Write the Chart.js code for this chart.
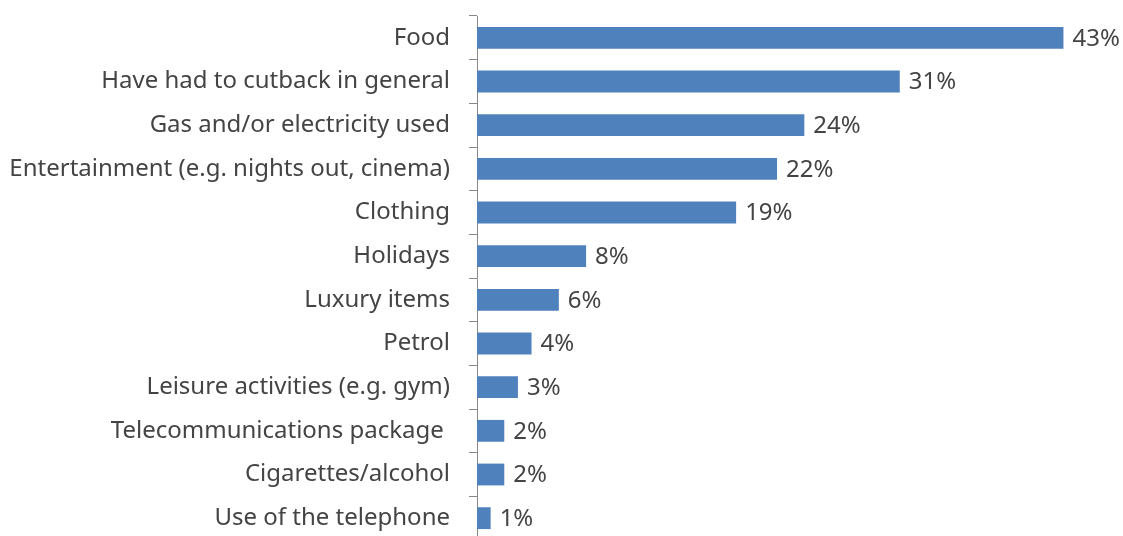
<!DOCTYPE html>
<html>
<head>
<meta charset="utf-8">
<script src="https://cdn.jsdelivr.net/npm/chart.js@4/dist/chart.umd.min.js"></script>
<style>
  html, body { margin: 0; padding: 0; background: #fff; overflow: hidden; }
  #cutbacks { display: block; }
</style>
</head>
<body>
<canvas id="cutbacks" width="1123" height="540"></canvas>
<script>
const categories = [
  'Food',
  'Have had to cutback in general',
  'Gas and/or electricity used',
  'Entertainment (e.g. nights out, cinema)',
  'Clothing',
  'Holidays',
  'Luxury items',
  'Petrol',
  'Leisure activities (e.g. gym)',
  'Telecommunications package ',
  'Cigarettes/alcohol',
  'Use of the telephone',
];
const shares = [43, 31, 24, 22, 19, 8, 6, 4, 3, 2, 2, 1];

const textColor = '#444444';
const fontFamily = '"Segoe UI", "Noto Sans", "Open Sans", sans-serif';

// percentage text right of each bar end
const valueLabels = {
  id: 'valueLabels',
  afterDatasetsDraw(chart) {
    const ctx = chart.ctx;
    const meta = chart.getDatasetMeta(0);
    ctx.save();
    ctx.font = `24px ${fontFamily}`;
    ctx.fillStyle = textColor;
    ctx.textAlign = 'left';
    ctx.textBaseline = 'middle';
    meta.data.forEach((bar, i) => {
      ctx.fillText(shares[i] + '%', bar.x + 9, bar.y + 1);
    });
    ctx.restore();
  },
};

new Chart(document.getElementById('cutbacks'), {
  type: 'bar',
  plugins: [valueLabels],
  options: {
    indexAxis: 'y',
    responsive: false,
    animation: false,
    layout: {
      padding: { top: 16, right: 5, bottom: 0, left: 0 },
    },
    plugins: {
      legend: { display: false },
      tooltip: { enabled: false },
    },
    scales: {
      x: {
        display: false,
        min: 0,
        max: 47,
      },
      y: {
        afterFit: (scale) => {
          // fixed label column, no extra room for label overhang
          scale.width = 477;
          scale.paddingTop = 0;
          scale.paddingBottom = 0;
        },
        grid: {
          offset: true,
          drawOnChartArea: false,
          tickLength: 8,
          color: '#888888',
          lineWidth: 1,
        },
        border: {
          display: true,
          color: '#888888',
          width: 1,
        },
        ticks: {
          padding: 19,
          color: textColor,
          font: { family: fontFamily, size: 24 },
        },
      },
    },
  },
  data: {
    labels: categories,
    datasets: [
      {
        data: shares,
        backgroundColor: '#4F81BD',
        categoryPercentage: 1,
        barPercentage: 0.5,
      },
    ],
  },
});
</script>
</body>
</html>
